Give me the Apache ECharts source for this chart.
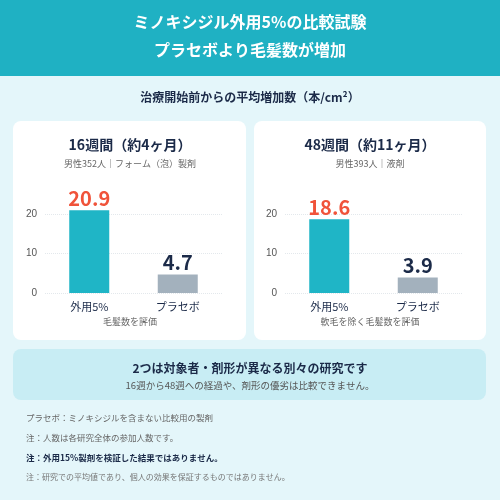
<!DOCTYPE html>
<html><head><meta charset="utf-8">
<script src="https://cdn.jsdelivr.net/npm/echarts@6/dist/echarts.min.js"></script>
<style>html,body{margin:0;padding:0;}#c{width:500px;height:500px;}</style>
</head><body><div id="c"></div>
<script>
const categories = ['外用5%', 'プラセボ'];
const values16 = [20.9, 4.7];
const values48 = [18.6, 3.9];
const yTicks = [0, 10, 20];

const F = '"Noto Sans CJK JP","Noto Sans",sans-serif';
const chart = echarts.init(document.getElementById('c'));
function txt(x, y, t, size, color, weight, align) {
  return {type:'text', x, y, style:{text:t, font:(weight||'normal')+' '+size+'px '+F, fill:color, textAlign:align||'center', textVerticalAlign:'middle'}};
}
function barSeries(vals, gi) {
  return {type:'bar', xAxisIndex:gi, yAxisIndex:gi, barWidth:40,
    data: vals.map((v,i)=>({value:v, itemStyle:{color: i===0?'#1fb5c6':'#a3b1bd'},
      label:{show:true, position:'top', distance:2, fontSize:20, fontWeight:'bold', fontFamily:F, color: i===0?'#f0533a':'#1b2a48'}}))};
}
function xA(gi){return {type:'category', gridIndex:gi, data:categories, axisLine:{show:false}, axisTick:{show:false},
  axisLabel:{color:'#1b2a48', fontSize:11, fontFamily:F, margin:8}};}
function yA(gi){return {type:'value', gridIndex:gi, min:0, max:25, interval:10, axisLine:{show:false}, axisTick:{show:false},
  axisLabel:{color:'#555', fontSize:10, showMaxLabel:false, formatter:v=>yTicks.includes(v)?String(v):''},
  splitLine:{showMaxLine:false, lineStyle:{color:'#e3e8ec', type:'dotted'}}};}
chart.setOption({
  backgroundColor:'#e4f6fa',
  animation:false,
  grid:[{left:45, width:177, top:194, height:99}, {left:285, width:177, top:194, height:99}],
  xAxis:[xA(0), xA(1)], yAxis:[yA(0), yA(1)],
  series:[barSeries(values16,0), barSeries(values48,1)],
  graphic:[
    {type:'rect', z:-10, shape:{x:0,y:0,width:500,height:76}, style:{fill:'#1fb1c3'}},
    txt(250,22,'ミノキシジル外用5%の比較試験',16,'#fff','bold'),
    txt(250,50,'プラセボより毛髪数が増加',16,'#fff','bold'),
    txt(250,97,'治療開始前からの平均増加数（本/cm²）',12,'#1b2a48','bold'),
    {type:'rect', z:-10, shape:{x:13,y:121,width:233,height:219,r:8}, style:{fill:'#fff'}},
    {type:'rect', z:-10, shape:{x:254,y:121,width:232,height:219,r:8}, style:{fill:'#fff'}},
    txt(130,145,'16週間（約4ヶ月）',14,'#1b2a48','bold'),
    txt(130,164,'男性352人｜フォーム（泡）製剤',9,'#666'),
    txt(130,322,'毛髪数を評価',9,'#666'),
    txt(370,145,'48週間（約11ヶ月）',14,'#1b2a48','bold'),
    txt(370,164,'男性393人｜液剤',9,'#666'),
    txt(370,322,'軟毛を除く毛髪数を評価',9,'#666'),
    {type:'rect', z:-10, shape:{x:13,y:349,width:473,height:51,r:8}, style:{fill:'#c8edf4'}},
    txt(250,368,'2つは対象者・剤形が異なる別々の研究です',12,'#1b2a48','bold'),
    txt(250,385,'16週から48週への経過や、剤形の優劣は比較できません。',9.5,'#555'),
    txt(26,418,'プラセボ：ミノキシジルを含まない比較用の製剤',8.5,'#666','normal','left'),
    txt(26,438,'注：人数は各研究全体の参加人数です。',8.5,'#666','normal','left'),
    txt(26,458,'注：外用15%製剤を検証した結果ではありません。',8.5,'#1b2a48','bold','left'),
    txt(26,477,'注：研究での平均値であり、個人の効果を保証するものではありません。',8,'#777','normal','left')
  ]
});
</script></body></html>
